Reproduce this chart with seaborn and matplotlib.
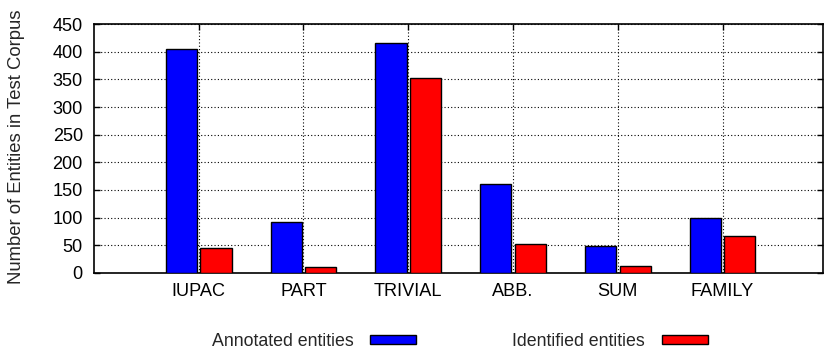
import matplotlib
matplotlib.use("Agg")
import matplotlib.pyplot as plt
import seaborn as sns
import pandas as pd

categories = ["IUPAC", "PART", "TRIVIAL", "ABB.", "SUM", "FAMILY"]
annotated = [405, 92, 415, 161, 49, 100]
identified = [45, 10, 353, 52, 13, 67]
series_names = ["Annotated entities", "Identified entities"]
y_ticks = [0, 50, 100, 150, 200, 250, 300, 350, 400, 450]

df = pd.DataFrame({
    "category": categories * 2,
    "count": annotated + identified,
    "series": [series_names[0]] * len(categories) + [series_names[1]] * len(categories),
})

sns.set_style("white")
plt.rcParams["font.family"] = ["Liberation Sans", "DejaVu Sans"]

fig = plt.figure(figsize=(8.24, 3.54), dpi=100)
ax = fig.add_axes([0.114, 0.229, 0.885, 0.703])

sns.barplot(
    data=df, x="category", y="count", hue="series",
    order=categories, hue_order=series_names,
    palette=["#0000ff", "#ff0000"], width=0.66, gap=0.1,
    edgecolor="black", linewidth=1.0, saturation=1.0,
    errorbar=None, ax=ax, zorder=3,
)

ax.set_xlim(-1, 5.96)
ax.set_ylim(0, 450)
ax.set_yticks(y_ticks)
ax.set_xlabel("")
ax.set_ylabel("Number of Entities in Test Corpus", fontsize=13.3)
ax.yaxis.set_label_coords(-0.095, 0.508)
ax.tick_params(axis="both", labelsize=13.1, direction="in", length=4.5, width=1,
               top=True, right=True, bottom=False, left=True, colors="black")
ax.tick_params(axis="x", pad=7.3)
ax.tick_params(axis="y", pad=8)

ax.grid(True, color="black", linestyle=(0, (1, 2)), linewidth=0.8, zorder=0)
ax.set_axisbelow(True)
for s in ax.spines.values():
    s.set_visible(True)
    s.set_color("black")
    s.set_linewidth(1.2)

handles, labels = ax.get_legend_handles_labels()
ax.legend_.remove()
fig.legend(handles, labels, loc="center left", bbox_to_anchor=(0.246, 0.036),
           ncol=2, frameon=False, markerfirst=False, fontsize=12.8,
           borderpad=0, handlelength=2.6, handleheight=0.45, handletextpad=0.95,
           columnspacing=5.4)

fig.savefig("out.png", dpi=100)
